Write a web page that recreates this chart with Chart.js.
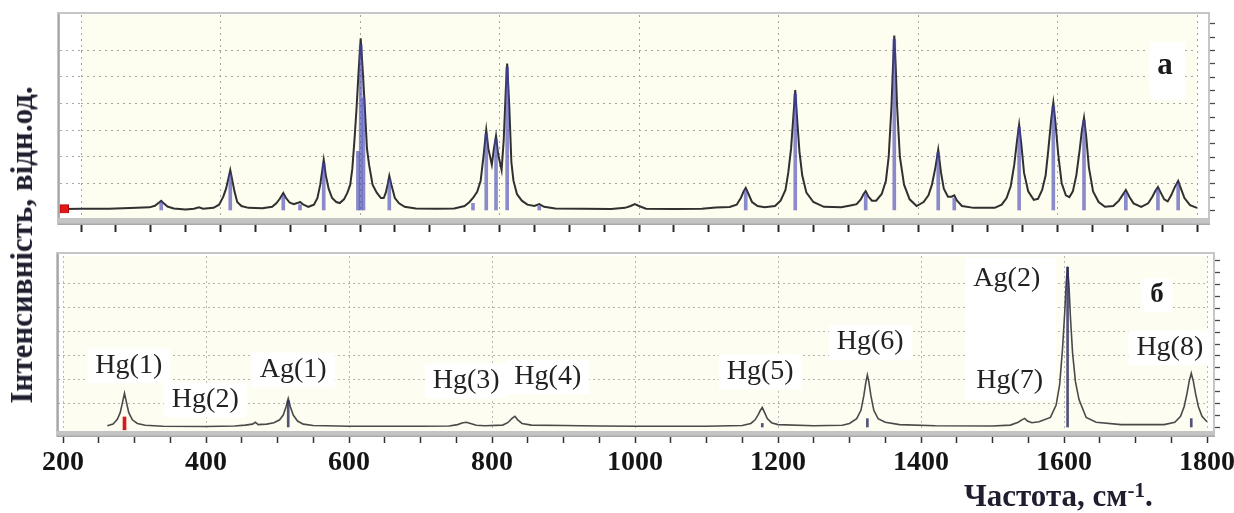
<!DOCTYPE html>
<html><head><meta charset="utf-8">
<script src="https://cdn.jsdelivr.net/npm/chart.js@4.4.1/dist/chart.umd.min.js"></script>
<style>
html,body{margin:0;padding:0;background:#fff;}
body{width:1234px;height:513px;position:relative;overflow:hidden;font-family:"Liberation Serif","Times New Roman",serif;}
#c1{position:absolute;left:0;top:0;}
#c2{position:absolute;left:0;top:240px;}
#ytitle{position:absolute;left:22px;top:245px;transform:translate(-50%,-50%) rotate(-90deg);white-space:nowrap;font-weight:bold;font-size:31px;color:#1e1e2e;}
#xtitle{position:absolute;left:964px;top:480px;white-space:nowrap;font-weight:bold;font-size:31px;color:#1e1e2e;line-height:1;}
#xtitle sup{font-size:21px;vertical-align:0.45em;}
</style></head><body>
<canvas id="c1" width="1234" height="240"></canvas>
<canvas id="c2" width="1234" height="273"></canvas>
<div id="ytitle">Інтенсивність, відн.од.</div>
<div id="xtitle">Частота, см<sup>-1</sup>.</div>
<script>
// ---------- DATA ----------
// panel (а): calculated spectrum [frequency cm-1, intensity]
const topSpectrum = [[176,0.04],[200,0.05],[240,0.05],[280,0.08],[298,0.1],[306,0.16],[311,0.26],[315,0.34],[319,0.24],[324,0.13],[333,0.06],[350,0.02],[362,0.05],[369,0.1],[375,0.05],[390,0.08],[398,0.2],[404,0.5],[408,0.8],[411,1.15],[414,1.5],[417,1.1],[420,0.7],[424,0.3],[430,0.15],[440,0.08],[460,0.07],[474,0.12],[480,0.25],[485,0.42],[490,0.64],[494,0.45],[499,0.28],[505,0.22],[510,0.26],[514,0.3],[519,0.2],[526,0.12],[534,0.2],[539,0.45],[543,0.95],[546,1.5],[548,1.88],[551,1.3],[555,0.8],[560,0.45],[566,0.3],[571,0.26],[577,0.4],[582,0.65],[586,0.95],[589,1.55],[592,2.6],[595,3.8],[598,5.2],[601,6.44],[604,5.2],[607,3.8],[610,2.3],[613,1.7],[618,0.95],[624,0.65],[630,0.45],[634,0.45],[637,0.65],[640,1.0],[642,1.28],[645,0.95],[650,0.45],[656,0.25],[664,0.12],[680,0.06],[710,0.05],[735,0.06],[750,0.15],[757,0.3],[762,0.45],[768,0.68],[773,1.1],[777,2.0],[781,3.0],[784,2.3],[789,1.7],[792,2.3],[795,2.78],[798,2.1],[803,1.5],[806,2.6],[809,4.5],[811,5.49],[814,3.9],[817,1.8],[820,1.1],[825,0.6],[832,0.35],[840,0.2],[850,0.15],[857,0.22],[864,0.12],[880,0.06],[920,0.05],[960,0.04],[980,0.08],[988,0.15],[994,0.22],[1000,0.15],[1010,0.05],[1050,0.04],[1090,0.05],[1110,0.09],[1130,0.11],[1140,0.2],[1146,0.45],[1150,0.7],[1153,0.83],[1157,0.6],[1162,0.3],[1170,0.15],[1180,0.1],[1195,0.15],[1203,0.35],[1210,0.75],[1214,1.4],[1218,2.3],[1221,3.4],[1224,4.5],[1227,3.3],[1230,2.2],[1234,1.3],[1240,0.65],[1250,0.3],[1265,0.12],[1290,0.1],[1305,0.18],[1312,0.22],[1318,0.4],[1322,0.6],[1325,0.71],[1329,0.5],[1334,0.35],[1340,0.35],[1348,0.6],[1354,1.1],[1358,2.0],[1362,3.9],[1364,5.3],[1366,6.54],[1368,5.4],[1370,3.9],[1374,2.0],[1380,0.95],[1388,0.4],[1398,0.15],[1408,0.3],[1415,0.55],[1420,0.95],[1425,1.6],[1429,2.26],[1433,1.4],[1437,0.8],[1443,0.5],[1448,0.5],[1452,0.55],[1456,0.35],[1463,0.15],[1480,0.08],[1510,0.08],[1520,0.2],[1527,0.45],[1533,0.9],[1538,1.7],[1542,2.6],[1545,3.2],[1548,2.5],[1552,1.4],[1558,0.7],[1566,0.38],[1572,0.42],[1578,0.75],[1583,1.3],[1587,2.3],[1591,3.4],[1594,4.02],[1597,3.3],[1601,2.1],[1606,1.0],[1612,0.55],[1617,0.48],[1622,0.7],[1627,1.3],[1632,2.3],[1635,3.0],[1638,3.46],[1641,2.8],[1645,1.6],[1651,0.7],[1659,0.3],[1668,0.12],[1680,0.15],[1688,0.35],[1693,0.55],[1698,0.75],[1703,0.5],[1709,0.25],[1720,0.12],[1730,0.25],[1736,0.5],[1740,0.7],[1744,0.86],[1748,0.65],[1753,0.4],[1758,0.32],[1763,0.55],[1768,0.85],[1773,1.09],[1777,0.8],[1782,0.45],[1790,0.18],[1800,0.08]];
// panel (а): line spectrum sticks [frequency, intensity]
const topSticks = [[315,0.3],[414,1.35],[490,0.55],[514,0.2],[548,1.75],[597,2.2],[601,6.2],[605,4.2],[642,1.15],[762,0.25],[781,2.85],[795,2.65],[811,5.35],[857,0.15],[1153,0.72],[1224,4.35],[1325,0.6],[1366,6.4],[1429,2.15],[1452,0.45],[1545,3.1],[1594,3.9],[1638,3.35],[1698,0.65],[1744,0.78],[1773,1.0]];
// red cursor marker at the start of the spectrum [frequency, low, high]
const topMarker = [[176,-0.12,0.2]];

// panel (б): experimental spectrum
const bottomSpectrum = [[262,0.05],[270,0.12],[276,0.32],[280,0.6],[283,1.0],[286,1.41],[289,1.0],[292,0.6],[297,0.3],[304,0.15],[315,0.07],[340,0.03],[400,0.02],[440,0.04],[455,0.08],[465,0.12],[469,0.2],[473,0.1],[485,0.12],[495,0.18],[503,0.3],[508,0.5],[512,0.85],[515,1.2],[518,0.85],[522,0.5],[528,0.25],[536,0.12],[550,0.06],[600,0.03],[700,0.03],[740,0.04],[752,0.1],[758,0.17],[764,0.2],[770,0.15],[778,0.07],[790,0.05],[815,0.08],[822,0.18],[828,0.36],[832,0.45],[836,0.3],[842,0.15],[855,0.08],[900,0.06],[950,0.04],[1000,0.03],[1100,0.03],[1150,0.06],[1162,0.15],[1168,0.3],[1172,0.5],[1175,0.68],[1178,0.82],[1181,0.62],[1185,0.35],[1191,0.18],[1200,0.1],[1250,0.05],[1290,0.07],[1300,0.15],[1310,0.35],[1316,0.7],[1320,1.3],[1323,1.9],[1325,2.18],[1327,1.9],[1330,1.3],[1334,0.7],[1340,0.35],[1350,0.2],[1370,0.1],[1420,0.05],[1500,0.04],[1525,0.08],[1536,0.2],[1541,0.3],[1545,0.36],[1549,0.25],[1555,0.18],[1565,0.22],[1581,0.4],[1589,0.92],[1594,1.8],[1598,3.3],[1601,4.8],[1603,6.0],[1605,6.72],[1607,5.9],[1609,4.6],[1612,3.1],[1616,1.9],[1621,1.15],[1631,0.4],[1645,0.2],[1680,0.1],[1740,0.1],[1755,0.2],[1763,0.45],[1768,0.85],[1772,1.4],[1775,1.9],[1778,2.25],[1781,1.9],[1784,1.4],[1788,0.85],[1793,0.45],[1800,0.22],[1804,0.15]];
const bottomSticks = [[515,1.1],[1605,6.7],[1325,0.35],[1778,0.35],[1178,0.15]];
const bottomMarker = [[286,-0.12,0.42]];

const bottomLabelText = ['Hg(1)','Hg(2)','Ag(1)','Hg(3)','Hg(4)','Hg(5)','Hg(6)','Ag(2)','Hg(7)','Hg(8)'];
const bottomLabelFreq = [292,399,522,764,878,1175,1329,1520,1524,1748];
const bottomLabelInt  = [2.56,1.13,2.39,1.93,2.1,2.3,3.56,6.2,1.93,3.31];
const topLetter = {text:'а', x:1754, y:5.4};
const bottomLetter = {text:'б', x:1730, y:5.53};
const topBlanks = [[1733,1783,4.13,6.3]];
const bottomBlanks = [[1462,1589,1.1,7.1]];
const xTickLabels = [200,400,600,800,1000,1200,1400,1600,1800];

// ---------- PLUGINS ----------
const panelPlugin = {
  id: 'panel',
  beforeDraw(chart, args, o) {
    const {ctx, chartArea: a} = chart;
    ctx.save();
    ctx.fillStyle = '#ffffff';
    ctx.fillRect(0, 0, chart.width, chart.height);
    ctx.fillStyle = o.bg;
    ctx.fillRect(a.left, a.top, a.right - a.left, a.bottom - a.top);
    ctx.restore();
  },
  afterDraw(chart, args, o) {
    const {ctx, chartArea: a, scales: {y}} = chart;
    const f = {l: a.left - o.inL, t: a.top - o.inT, r: a.right + o.inR, b: a.bottom + o.barH};
    ctx.save();
    ctx.strokeStyle = '#c6c6c6';
    ctx.lineWidth = 2;
    ctx.beginPath();
    ctx.moveTo(f.l, f.b); ctx.lineTo(f.l, f.t); ctx.lineTo(f.r, f.t); ctx.lineTo(f.r, f.b);
    ctx.stroke();
    ctx.strokeStyle = '#9c9c9c';
    ctx.lineWidth = 1.5;
    ctx.beginPath(); ctx.moveTo(f.l + 1, f.t + 1); ctx.lineTo(f.l + 1, f.b); ctx.stroke();
    // bottom bar
    ctx.fillStyle = '#c4c4c4';
    ctx.fillRect(f.l, a.bottom, f.r - f.l + 1, o.barH);
    ctx.fillStyle = '#a9a9a9';
    ctx.fillRect(f.l, a.bottom + o.barH - 1.5, f.r - f.l + 1, 1.5);
    // right ticks
    ctx.strokeStyle = '#4a4a4a';
    ctx.lineWidth = 1.3;
    for (let v = 0; v <= 7.001; v += 0.5) {
      const py = Math.round(y.getPixelForValue(v)) + 0.5;
      ctx.beginPath(); ctx.moveTo(f.r + 1, py); ctx.lineTo(f.r + 6, py); ctx.stroke();
    }
    ctx.restore();
  }
};

const labelPlugin = {
  id: 'peakLabels',
  beforeDatasetsDraw(chart, args, o) {
    const {ctx, scales: {x, y}} = chart;
    ctx.save();
    ctx.fillStyle = '#ffffff';
    (o.blanks || []).forEach(b => {
      const x1 = x.getPixelForValue(b[0]), x2 = x.getPixelForValue(b[1]);
      const y1 = y.getPixelForValue(b[2]), y2 = y.getPixelForValue(b[3]);
      ctx.fillRect(x1, y2, x2 - x1, y1 - y2);
    });
    const items = o.items || [];
    items.forEach(it => {
      ctx.font = it.font;
      const w = ctx.measureText(it.text).width;
      const px = x.getPixelForValue(it.x), py = y.getPixelForValue(it.y);
      ctx.fillStyle = '#ffffff';
      ctx.fillRect(px - w / 2 - 8, py - it.size * 0.62, w + 16, it.size * 1.24);
    });
    items.forEach(it => {
      ctx.font = it.font;
      ctx.fillStyle = it.color;
      ctx.textAlign = 'center';
      ctx.textBaseline = 'middle';
      ctx.fillText(it.text, x.getPixelForValue(it.x), y.getPixelForValue(it.y));
    });
    ctx.restore();
  }
};

const SERIF = '"Liberation Serif", "Times New Roman", serif';
const intTicks = s => { s.ticks = s.ticks.filter(t => Math.abs(t.value - Math.round(t.value)) < 1e-6 && t.value >= 0 && t.value <= 7); };
const xGridColor = col => c => (c.tick && c.tick.value % 200 === 0) ? col : 'rgba(0,0,0,0)';

// ---------- TOP CHART (а) ----------
new Chart(document.getElementById('c1'), {
  type: 'line',
  data: {
    datasets: [
      { type: 'bar', data: topSticks.map(p => ({x: p[0], y: p[1]})), backgroundColor: 'rgba(70,70,180,0.62)', barThickness: 3, grouped: false, order: 0 },
      { type: 'line', data: topSpectrum.map(p => ({x: p[0], y: p[1]})), borderColor: '#303030', borderWidth: 2, pointRadius: 0, tension: 0, clip: false, order: 1 },
      { type: 'bar', data: topMarker.map(p => ({x: p[0], y: [p[1], p[2]]})), backgroundColor: '#e01818', borderColor: '#b00000', borderWidth: 1, barThickness: 9, grouped: false, clip: false, order: -1 }
    ]
  },
  options: {
    responsive: false, animation: false, events: [],
    layout: { padding: { top: 15, right: 37, left: 0, bottom: 0 } },
    plugins: {
      legend: { display: false }, tooltip: { enabled: false },
      panel: { bg: '#fdfdf0', inL: 23, inT: 2, inR: 12, barH: 7 },
      peakLabels: {
        blanks: topBlanks,
        items: [{ text: topLetter.text, x: topLetter.x, y: topLetter.y, font: 'bold 31px ' + SERIF, size: 31, color: '#1a1a1a' }]
      }
    },
    scales: {
      x: {
        type: 'linear', min: 200, max: 1800, offset: false,
        afterFit: s => { s.height = 22; s.paddingLeft = 0; s.paddingRight = 0; },
        ticks: { display: false, stepSize: 50, autoSkip: false, maxRotation: 0 },
        grid: { color: xGridColor('#a4a4a4'), lineWidth: 1, tickLength: 14, tickColor: '#2a2a2a', tickWidth: 2, offset: false },
        border: { display: false, dash: [2, 4] }
      },
      y: {
        type: 'linear', min: -0.3, max: 7.315,
        afterBuildTicks: intTicks,
        afterFit: s => { s.width = 81; },
        ticks: { display: false, stepSize: 1 },
        grid: { color: '#a4a4a4', lineWidth: 1, tickLength: 21, tickColor: '#a8a8a8', tickBorderDash: [2, 4] },
        border: { display: false, dash: [2, 4] }
      }
    }
  },
  plugins: [panelPlugin, labelPlugin]
});

// ---------- BOTTOM CHART (б) ----------
const bottomItems = bottomLabelText.map((t, i) => ({ text: t, x: bottomLabelFreq[i], y: bottomLabelInt[i], font: '28px ' + SERIF, size: 28, color: '#222222' }));
bottomItems.push({ text: bottomLetter.text, x: bottomLetter.x, y: bottomLetter.y, font: 'bold 27px ' + SERIF, size: 27, color: '#1a1a1a' });

new Chart(document.getElementById('c2'), {
  type: 'line',
  data: {
    datasets: [
      { type: 'bar', data: bottomSticks.map(p => ({x: p[0], y: p[1]})), backgroundColor: 'rgba(40,40,90,0.8)', barThickness: 2, grouped: false, order: 0 },
      { type: 'bar', data: bottomMarker.map(p => ({x: p[0], y: [p[1], p[2]]})), backgroundColor: '#d41c1c', barThickness: 3, grouped: false, order: -1 },
      { type: 'line', data: bottomSpectrum.map(p => ({x: p[0], y: p[1]})), borderColor: '#4a4a4a', borderWidth: 1.6, pointRadius: 0, tension: 0, clip: false, order: 1 }
    ]
  },
  options: {
    responsive: false, animation: false, events: [],
    layout: { padding: { top: 16, right: 27, left: 0, bottom: 0 } },
    plugins: {
      legend: { display: false }, tooltip: { enabled: false },
      panel: { bg: '#fdfdf2', inL: 6, inT: 3, inR: 7, barH: 6 },
      peakLabels: { blanks: bottomBlanks, items: bottomItems }
    },
    scales: {
      x: {
        type: 'linear', min: 200, max: 1800, offset: false,
        afterFit: s => { s.height = 82; s.paddingLeft = 0; s.paddingRight = 0; },
        ticks: {
          stepSize: 50, autoSkip: false, maxRotation: 0, minRotation: 0, padding: 3,
          color: '#151515', font: { family: SERIF, size: 28, weight: 'bold' },
          callback: v => xTickLabels.includes(v) ? String(v) : ''
        },
        grid: { color: xGridColor('#b8b8b8'), lineWidth: 1, tickLength: 12, tickColor: '#333333', tickWidth: 1.5, offset: false },
        border: { display: false, dash: [2, 3] }
      },
      y: {
        type: 'linear', min: -0.168, max: 7.168,
        afterBuildTicks: intTicks,
        afterFit: s => { s.width = 63; },
        ticks: { display: false, stepSize: 1 },
        grid: { color: '#b4b4b4', lineWidth: 1, tickLength: 5, tickColor: '#aaaaaa', tickBorderDash: [2, 3] },
        border: { display: false, dash: [2, 3] }
      }
    }
  },
  plugins: [panelPlugin, labelPlugin]
});
</script>
</body></html>
